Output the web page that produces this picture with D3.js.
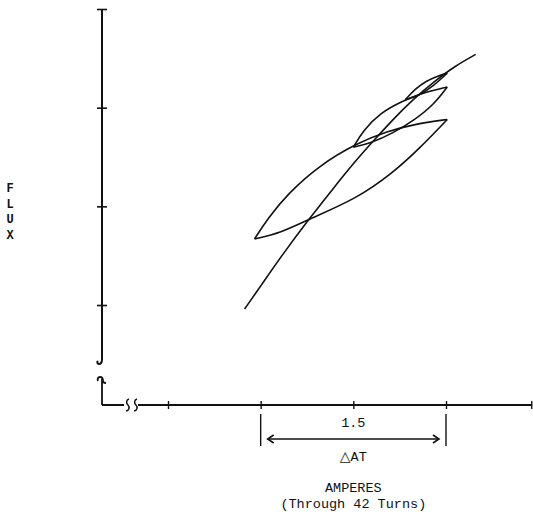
<!DOCTYPE html>
<html>
<head>
<meta charset="utf-8">
<script src="https://cdn.jsdelivr.net/npm/d3@7"></script>
<style>
  body { margin: 0; background: #fff; }
  text { font-family: "Liberation Mono", "DejaVu Sans Mono", monospace; fill: #111; }
</style>
</head>
<body>
<svg id="chart" width="533" height="512"></svg>
<script>
// values (amperes, flux in tick units)
var xTicks = [0.75, 1.5, 2.25, 3.0, 3.69];
var yTicks = [1, 2, 3, 4];

var mainX = [1.37, 1.51, 1.67, 1.89, 2.08, 2.26, 2.41, 2.57, 2.73, 2.91, 3.07, 3.24];
var mainY = [0.96, 1.21, 1.50, 1.87, 2.17, 2.45, 2.66, 2.88, 3.08, 3.27, 3.42, 3.54];

var bigUpX = [1.45, 1.56, 1.72, 1.98, 2.28, 2.52, 2.77, 3.01];
var bigUpY = [1.67, 1.88, 2.13, 2.42, 2.64, 2.76, 2.84, 2.88];
var bigLoX = [1.45, 1.66, 1.89, 2.28, 2.57, 2.78, 3.01];
var bigLoY = [1.67, 1.73, 1.87, 2.08, 2.34, 2.58, 2.88];

var midUpX = [2.25, 2.33, 2.47, 2.65, 2.81, 3.01];
var midUpY = [2.60, 2.77, 2.95, 3.07, 3.15, 3.21];
var midLoX = [2.25, 2.39, 2.57, 2.75, 2.90, 3.01];
var midLoY = [2.60, 2.64, 2.74, 2.88, 3.03, 3.21];

var smlUpX = [2.67, 2.75, 2.84, 2.93, 3.01];
var smlUpY = [3.08, 3.19, 3.27, 3.32, 3.35];
var smlLoX = [2.67, 2.78, 2.90, 3.01];
var smlLoY = [3.08, 3.12, 3.22, 3.35];

var svg = d3.select('#chart');

var x = d3.scaleLinear().domain([0.75, 3.0]).range([168, 446]);
var y = d3.scaleLinear().domain([1, 4]).range([305, 9]);

var ink = '#111';

// y axis (broken near bottom)
var yAxis = svg.append('g')
  .attr('transform', 'translate(102,0)')
  .call(d3.axisLeft(y).tickValues(yTicks).tickFormat('').tickSize(5));
yAxis.select('.domain').remove();
yAxis.selectAll('.tick line').attr('x1', -5).attr('x2', 5).attr('stroke', ink).attr('stroke-width', 1.6);

svg.append('path')
  .attr('d', 'M102,9 L102,359 C102,362 101,364 99,364 C97,364 97,362 98,361')
  .attr('fill', 'none').attr('stroke', ink).attr('stroke-width', 2);
svg.append('path')
  .attr('d', 'M98,381 C97,379 98,377 100,377 C102,377 103,379 103,381 C103,382 104,383 106,383 M102,379 L102,405')
  .attr('fill', 'none').attr('stroke', ink).attr('stroke-width', 1.8);

// x axis (broken near origin)
var xAxis = svg.append('g')
  .attr('transform', 'translate(0,405)')
  .call(d3.axisBottom(x).tickValues(xTicks).tickFormat('').tickSize(5));
xAxis.select('.domain').remove();
xAxis.selectAll('.tick line').attr('y1', -4).attr('y2', 4).attr('stroke', ink).attr('stroke-width', 1.4);

svg.append('line').attr('x1', 102).attr('y1', 405).attr('x2', 124).attr('y2', 405)
  .attr('stroke', ink).attr('stroke-width', 2);
svg.append('path')
  .attr('d', 'M129,399 C126,400 126,403 128,405 C130,407 129,411 126,411 M137,399 C134,400 134,403 136,405 C138,407 137,411 134,411')
  .attr('fill', 'none').attr('stroke', ink).attr('stroke-width', 1.5);
svg.append('line').attr('x1', 138).attr('y1', 405).attr('x2', x(3.69)).attr('y2', 405)
  .attr('stroke', ink).attr('stroke-width', 2);

// curves
var line = d3.line().curve(d3.curveBasis);
function draw(xs, ys) {
  var pts = xs.map(function(v, i) { return [x(v), y(ys[i])]; });
  svg.append('path').attr('d', line(pts))
    .attr('fill', 'none').attr('stroke', ink).attr('stroke-width', 1.6);
}
draw(mainX, mainY);
draw(bigUpX, bigUpY);
draw(bigLoX, bigLoY);
draw(midUpX, midUpY);
draw(midLoX, midLoY);
draw(smlUpX, smlUpY);
draw(smlLoX, smlLoY);

// delta dimension
[1.5, 3.0].forEach(function(v) {
  svg.append('line').attr('x1', x(v)).attr('x2', x(v)).attr('y1', 414).attr('y2', 446)
    .attr('stroke', ink).attr('stroke-width', 1.4);
});
var ay = 439;
svg.append('line').attr('x1', x(1.5) + 7).attr('x2', x(3.0) - 7).attr('y1', ay).attr('y2', ay)
  .attr('stroke', ink).attr('stroke-width', 1.6);
svg.append('path')
  .attr('d', 'M' + (x(1.5) + 13) + ',' + (ay - 4) + ' L' + (x(1.5) + 7) + ',' + ay + ' L' + (x(1.5) + 13) + ',' + (ay + 4) +
       ' M' + (x(3.0) - 13) + ',' + (ay - 4) + ' L' + (x(3.0) - 7) + ',' + ay + ' L' + (x(3.0) - 13) + ',' + (ay + 4))
  .attr('fill', 'none').attr('stroke', ink).attr('stroke-width', 1.6);

svg.append('text').attr('x', x(2.25)).attr('y', 427).attr('text-anchor', 'middle')
  .style('font-size', '13.5px').text('1.5');
var dt = svg.append('text').attr('x', x(2.25)).attr('y', 461).attr('text-anchor', 'middle')
  .style('font-size', '13.5px');
dt.append('tspan').style('font-family', '"DejaVu Sans"').style('font-size', '14px').text('\u25B3');
dt.append('tspan').text('AT');
svg.append('text').attr('x', x(2.25)).attr('y', 492).attr('text-anchor', 'middle')
  .style('font-size', '13.5px').text('AMPERES');
svg.append('text').attr('x', x(2.25)).attr('y', 508).attr('text-anchor', 'middle')
  .style('font-size', '13.5px').text('(Through 42 Turns)');

// FLUX stacked
['F', 'L', 'U', 'X'].forEach(function(c, i) {
  svg.append('text').attr('x', 10).attr('y', 192 + i * 15.5).attr('text-anchor', 'middle')
    .style('font-size', '12px').style('font-weight', 'bold').text(c);
});
</script>
</body>
</html>
